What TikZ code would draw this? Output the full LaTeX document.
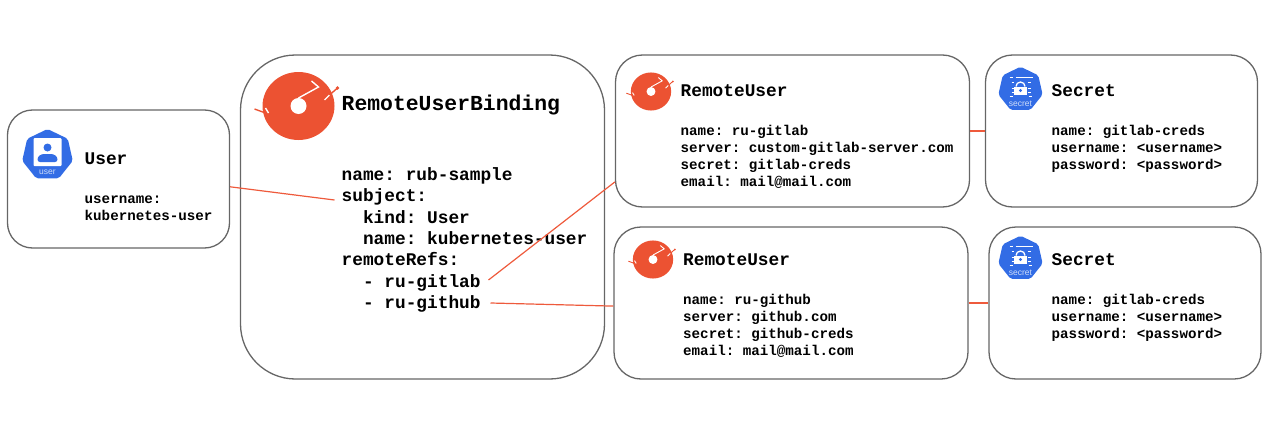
\documentclass[tikz,border=0pt]{standalone}
\usepackage{fontspec}
\setmonofont{Liberation Mono}
\setsansfont{Liberation Sans}
\usetikzlibrary{positioning}
\definecolor{logored}{HTML}{EC5232}
\definecolor{linkred}{HTML}{EE5A3C}
\definecolor{kubeblue}{HTML}{326CE5}
\definecolor{edgegray}{HTML}{666666}
\definecolor{kubelabel}{HTML}{CFDDF9}

\tikzset{
  box/.style={draw=edgegray,line width=1.3pt,inner sep=0pt},
  title/.style={anchor=west,inner sep=0pt,font=\ttfamily\bfseries\fontsize{17.8}{21}\selectfont},
  bigtitle/.style={anchor=west,inner sep=0pt,font=\ttfamily\bfseries\fontsize{21.4}{25}\selectfont},
  body/.style={align=left,inner sep=0pt,font=\ttfamily\bfseries\fontsize{14.2}{17}\selectfont},
  bigbody/.style={align=left,inner sep=0pt,font=\ttfamily\bfseries\fontsize{17.8}{21.4}\selectfont},
  link/.style={draw=linkred,line width=1.2pt},
  iconlabel/.style={text=kubelabel,inner sep=0pt,font=\sffamily\fontsize{8.5}{9}\selectfont},
  pics/logo/.style={code={
    \fill[logored] (0,0) ellipse (36 and 34);
    \fill[white] (0,0) circle (8);
    \draw[white] (0,-8)--(20,-19)--(13,-25);
    \draw[white] (26,-6)--(31,-11);
    \draw[logored] (31,-11)--(39,-18);
    \fill[logored] (39,-18) circle (1.8);
    \draw[white] (-30,7)--(-33,2);
    \draw[logored] (-33,7)--(-44,3);
  }},
  pics/hept/.style={code={
    \fill[kubeblue,rounded corners=2pt] (0,-26)--(20.3,-16.2)--(25.3,5.8)--(11.3,23.4)--(-11.3,23.4)--(-25.3,5.8)--(-20.3,-16.2)--cycle;
  }},
}

\begin{document}
\begin{tikzpicture}[x=1pt,y=-1pt]
\useasboundingbox (-0.5,0) rectangle (1269.5,431);
% boxes
\node[box,rounded corners=25pt,minimum width=222pt,minimum height=138pt] (user) at (118,179) {};
\node[box,rounded corners=55pt,minimum width=364pt,minimum height=324pt] (rub) at (422,217) {};
\node[box,rounded corners=27pt,minimum width=354pt,minimum height=152pt] (ruA) at (792,131) {};
\node[box,rounded corners=27pt,minimum width=354pt,minimum height=152pt] (ruB) at (790.5,303) {};
\node[box,rounded corners=27pt,minimum width=272pt,minimum height=152pt] (secA) at (1121,131) {};
\node[box,rounded corners=27pt,minimum width=272pt,minimum height=152pt] (secB) at (1124.5,303) {};

% user
\pic at (47,155) {hept};
\fill[white,rounded corners=1pt] (33,138) rectangle (61,166);
\fill[kubeblue] (47,147.5) circle (4);
\fill[kubeblue,rounded corners=2.5pt] (37,162)--(37,157)--(41,154)--(53,154)--(57,157)--(57,162)--cycle;
\node[iconlabel] (userLabel) at (47,172) {user};
\node[title] (userTitle) at (84,159) {User};
\node[body,below=31pt of userTitle.south west,anchor=north west] (userBody) {username:\\kubernetes-user};

% binding
\pic[line width=1.4pt] at (298,106) {logo};
\node[bigtitle] (rubTitle) at (341,105) {RemoteUserBinding};
\node[bigbody,below=52pt of rubTitle.south west,anchor=north west] (rubBody) {name: rub-sample\\subject:\\~~kind: User\\~~name: kubernetes-user\\remoteRefs:\\~~- ru-gitlab\\~~- ru-github};

% remote users
\pic[scale=.56,line width=.9pt] at (650.5,91.5) {logo};
\node[title] (ruATitle) at (680,91) {RemoteUser};
\node[body,below=28pt of ruATitle.south west,anchor=north west] (ruABody) {name: ru-gitlab\\server: custom-gitlab-server.com\\secret: gitlab-creds\\email: mail@mail.com};
\pic[scale=.56,line width=.9pt] at (652.5,259.5) {logo};
\node[title] (ruBTitle) at (682.5,260) {RemoteUser};
\node[body,below=28pt of ruBTitle.south west,anchor=north west] (ruBBody) {name: ru-github\\server: github.com\\secret: github-creds\\email: mail@mail.com};

% secrets
\foreach \name/\cy/\ty/\tx in {secA/89.5/91/1051,secB/258.5/260/1051}{
  \begin{scope}[shift={(1020,\cy)}]
    \pic[scale=.875] at (0,0) {hept};
    \draw[white,line width=1pt] (-11,-12)--(-8,-12) (-5,-12)--(12,-12) (-11,7)--(-8,7) (8,7)--(11,7);
    \draw[white,line width=.8pt] (-9,-7)--(-7,-7) (-9,-1)--(-7,-1) (-9,3)--(-7,3) (7,-7)--(10,-7) (7,-1)--(10,-1) (7,3)--(10,3);
    \draw[white,line width=1.3pt] (-4.5,-3) arc[start angle=180,end angle=360,radius=4.5];
    \fill[white] (-6.5,-2.5) rectangle (6.5,5);
    \fill[kubeblue] (0,1) circle (1.6);
    \node[iconlabel] (\name Label) at (0,14.5) {secret};
  \end{scope}
  \node[title] (\name Title) at (\tx,\ty) {Secret};
  \node[body,below=28pt of \name Title.south west,anchor=north west] (\name Body) {name: gitlab-creds\\username: <username>\\password: <password>};
}

% links
\coordinate (subjEnd) at (334,200);
\coordinate (gitlabEnd) at (488,280);
\coordinate (githubEnd) at (490,303);
\draw[link] (user.-4.1)--(subjEnd);
\draw[link] (gitlabEnd)--(ruA.196.4);
\draw[link] (githubEnd)--(ruB.181);
\draw[link] (ruA.east)--(secA.west);
\draw[link] (ruB.east)--(secB.west);
\end{tikzpicture}
\end{document}
